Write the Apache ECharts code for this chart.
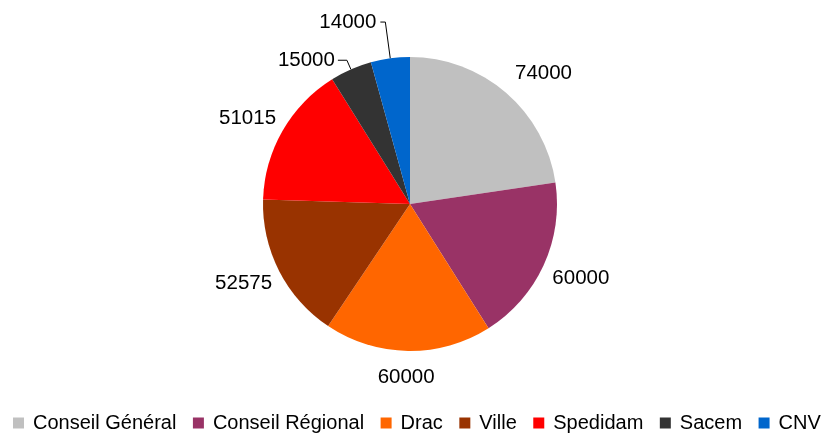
<!DOCTYPE html>
<html>
<head>
<meta charset="utf-8">
<script src="https://cdn.jsdelivr.net/npm/echarts@6/dist/echarts.min.js"></script>
<style>
html,body{margin:0;padding:0;background:#fff;}
#chart{width:822px;height:433px;}
</style>
</head>
<body>
<div id="chart"></div>
<script>
const categories = ['Conseil Général', 'Conseil Régional', 'Drac', 'Ville', 'Spedidam', 'Sacem', 'CNV'];
const values = [74000, 60000, 60000, 52575, 51015, 15000, 14000];
const colors = ['#c0c0c0', '#993366', '#ff6600', '#993300', '#ff0000', '#333333', '#0066cc'];
// per-slice label placement (line lengths / distances), style only
const lineLen = [26, 30.5, 26, 26, 25.4, 10, 36.6];
const lineLen2 = [0, 0, 0, 0, 0, 9, 5];
const labelDist = [-8, -19, -27, -16, -15.5, 3, 4];
const showLine = [false, false, false, false, false, true, true];

const data = categories.map((name, i) => ({
  name: name,
  value: values[i],
  itemStyle: { color: colors[i] },
  label: { distanceToLabelLine: labelDist[i] },
  labelLine: { show: showLine[i], length: lineLen[i], length2: lineLen2[i] }
}));

const chart = echarts.init(document.getElementById('chart'), null, { renderer: 'canvas' });
chart.setOption({
  animation: false,
  textStyle: { fontFamily: 'Liberation Sans, Arial, sans-serif' },
  legend: {
    data: categories,
    left: 8,
    top: 408,
    width: 812,
    padding: [5, 0, 5, 5],
    icon: 'rect',
    itemWidth: 11,
    itemHeight: 11,
    itemGap: 16.5,
    textStyle: { fontSize: 20, color: '#000', fontFamily: 'Liberation Sans, Arial, sans-serif', padding: [0, 0, 0, 4] }
  },
  series: [{
    type: 'pie',
    center: [410, 204],
    radius: 147,
    startAngle: 90,
    clockwise: true,
    avoidLabelOverlap: false,
    label: {
      show: true,
      position: 'outside',
      formatter: '{c}',
      fontSize: 20.5,
      color: '#000',
      fontFamily: 'Liberation Sans, Arial, sans-serif'
    },
    labelLine: { lineStyle: { color: '#000', width: 1 } },
    itemStyle: { borderWidth: 0 },
    emphasis: { disabled: true },
    data: data
  }]
});
</script>
</body>
</html>
